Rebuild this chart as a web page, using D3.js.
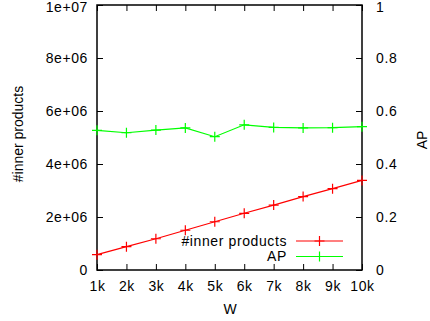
<!DOCTYPE html>
<html>
<head>
<meta charset="utf-8">
<script src="https://cdn.jsdelivr.net/npm/d3@7"></script>
<style>
  html, body { margin: 0; padding: 0; background: #fff; }
  svg { display: block; font-family: "Liberation Sans", Arial, sans-serif; }
</style>
</head>
<body>
<svg id="chart" width="430" height="321"></svg>
<script>
// Window size W (thousands) on the x axis
const windowSizes = [1, 2, 3, 4, 5, 6, 7, 8, 9, 10];
// Number of inner products computed (left axis)
const innerProducts = [580000, 880000, 1180000, 1500000, 1820000, 2140000, 2450000, 2770000, 3070000, 3380000];
// Average precision (right axis)
const apValues = [0.527, 0.518, 0.528, 0.536, 0.503, 0.548, 0.538, 0.536, 0.537, 0.541];

const leftTicks = [0, 2e6, 4e6, 6e6, 8e6, 1e7];
const leftTickLabels = ["0", "2e+06", "4e+06", "6e+06", "8e+06", "1e+07"];
const rightTicks = [0, 0.2, 0.4, 0.6, 0.8, 1];
const rightTickLabels = ["0", "0.2", "0.4", "0.6", "0.8", "1"];
const xTickLabels = ["1k", "2k", "3k", "4k", "5k", "6k", "7k", "8k", "9k", "10k"];

const margin = { left: 97, right: 68, top: 5, bottom: 51 };
const width = 430, height = 321;
const svg = d3.select("#chart");

const x = d3.scaleLinear().domain([1, 10]).range([margin.left, width - margin.right]);
const yL = d3.scaleLinear().domain([0, 1e7]).range([height - margin.bottom, margin.top]);
const yR = d3.scaleLinear().domain([0, 1]).range([height - margin.bottom, margin.top]);

const fontSize = 14;
const spacing = 0.6;
const tickLen = 6;

// Axes with inward ticks
const axisB = d3.axisBottom(x).tickValues(windowSizes).tickFormat((d, i) => xTickLabels[i]).tickSize(-tickLen).tickPadding(11);
const axisT = d3.axisTop(x).tickValues(windowSizes).tickFormat("").tickSize(-tickLen);
const axisL = d3.axisLeft(yL).tickValues(leftTicks).tickFormat((d, i) => leftTickLabels[i]).tickSize(-tickLen).tickPadding(9);
const axisR = d3.axisRight(yR).tickValues(rightTicks).tickFormat((d, i) => rightTickLabels[i]).tickSize(-tickLen).tickPadding(14);

function styleAxis(g) {
  g.selectAll(".domain").remove();
  g.selectAll(".tick line").attr("stroke", "#000").attr("stroke-width", 1);
  g.selectAll("text").attr("font-size", fontSize).attr("fill", "#000")
    .attr("letter-spacing", spacing)
    .attr("font-family", "'Liberation Sans', Arial, sans-serif");
}

svg.append("g").attr("transform", `translate(0,${height - margin.bottom})`).call(axisB).call(styleAxis);
svg.append("g").attr("transform", `translate(0,${margin.top})`).call(axisT).call(styleAxis);
const gL = svg.append("g").attr("transform", `translate(${margin.left},0)`).call(axisL).call(styleAxis);
const gR = svg.append("g").attr("transform", `translate(${width - margin.right},0)`).call(axisR).call(styleAxis);

// Keep the topmost tick labels inside the page edge
gL.selectAll(".tick text").filter(d => d === 1e7).attr("dy", "0.45em");
gR.selectAll(".tick text").filter(d => d === 1).attr("dy", "0.45em");

// Plot border
svg.append("rect")
  .attr("x", margin.left).attr("y", margin.top)
  .attr("width", width - margin.left - margin.right)
  .attr("height", height - margin.top - margin.bottom)
  .attr("fill", "none").attr("stroke", "#000").attr("stroke-width", 1.5);

// Series
const plotG = svg.append("g");
function drawSeries(values, yScale, color) {
  const line = d3.line().x((d, i) => x(windowSizes[i])).y(d => yScale(d));
  plotG.append("path").datum(values).attr("d", line)
    .attr("fill", "none").attr("stroke", color).attr("stroke-width", 1.2);
  const m = 5;
  plotG.selectAll(null).data(values).enter().append("path")
    .attr("d", (d, i) => {
      const cx = x(windowSizes[i]), cy = yScale(d);
      return `M${cx - m},${cy}H${cx + m}M${cx},${cy - m}V${cy + m}`;
    })
    .attr("stroke", color).attr("stroke-width", 1.2);
}
drawSeries(innerProducts, yL, "#ff0000");
drawSeries(apValues, yR, "#00ff00");

// Legend
const legend = [
  { label: "#inner products", color: "#ff0000" },
  { label: "AP", color: "#00ff00" }
];
legend.forEach((d, i) => {
  const ly = 241 + i * 15.5;
  svg.append("text").attr("x", 287).attr("y", ly).attr("dy", "0.35em")
    .attr("text-anchor", "end").attr("font-size", fontSize).attr("letter-spacing", spacing).text(d.label);
  svg.append("line").attr("x1", 296).attr("x2", 343).attr("y1", ly).attr("y2", ly)
    .attr("stroke", d.color).attr("stroke-width", 1.2);
  svg.append("path").attr("d", `M${319.5 - 5},${ly}H${319.5 + 5}M${319.5},${ly - 5}V${ly + 5}`)
    .attr("stroke", d.color).attr("stroke-width", 1.2);
});

// Axis titles
svg.append("text").attr("transform", "translate(18,134) rotate(-90)")
  .attr("text-anchor", "middle").attr("dy", "0.35em").attr("font-size", fontSize).text("#inner products");
svg.append("text").attr("transform", "translate(422,140) rotate(-90)")
  .attr("text-anchor", "middle").attr("dy", "0.35em").attr("font-size", fontSize).text("AP");
svg.append("text").attr("x", 230).attr("y", 309).attr("dy", "0.35em")
  .attr("text-anchor", "middle").attr("font-size", fontSize).text("W");
</script>
</body>
</html>
